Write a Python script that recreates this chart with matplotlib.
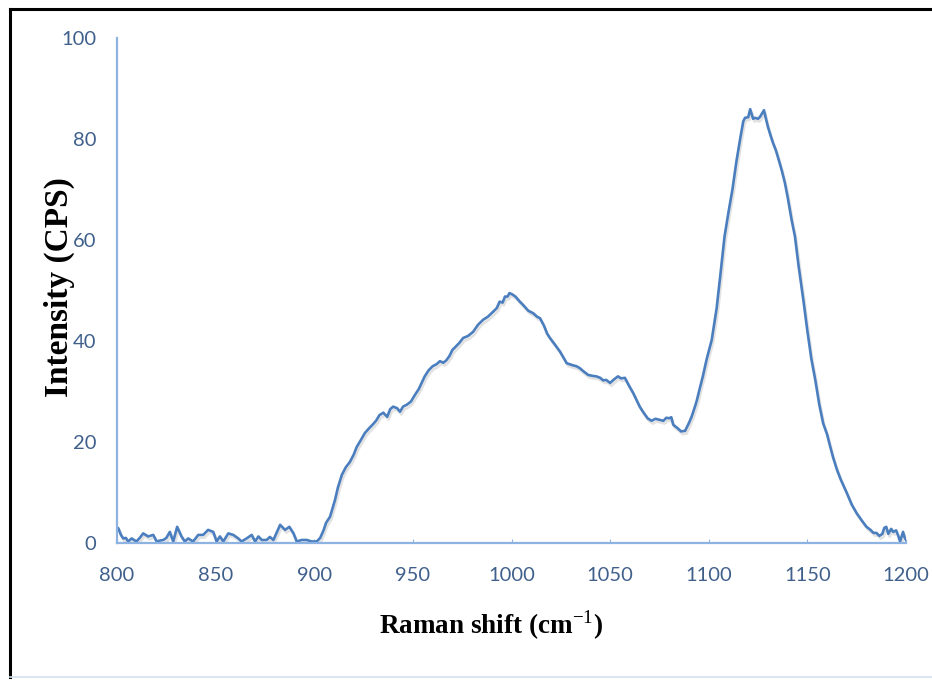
import matplotlib
matplotlib.use("Agg")
import matplotlib.pyplot as plt
import matplotlib.patheffects as pe
from matplotlib.lines import Line2D

# ---------------- data ----------------
raman_shift = [
    800.0, 800.7, 802.0, 803.2, 804.5, 805.7, 807.4, 809.9, 811.5, 813.3,
    815.8, 818.4, 820.1, 822.0, 823.5, 825.0, 826.8, 828.5, 830.5, 832.7,
    834.4, 836.1, 838.6, 841.2, 843.7, 846.2, 848.8, 850.5, 852.2, 853.9,
    856.4, 859.0, 861.5, 863.2, 865.7, 868.3, 870.0, 871.7, 873.4, 875.9,
    877.5, 879.3, 882.7, 885.2, 887.4, 889.5, 891.1, 893.7, 896.2, 898.7,
    901.3, 903.0, 904.7, 906.0, 908.0, 910.5, 912.0, 914.0, 916.0, 918.0,
    920.0, 921.5, 923.5, 925.7, 928.0, 930.0, 931.5, 933.0, 935.0, 937.0,
    938.5, 940.0, 942.0, 943.5, 945.0, 947.0, 949.0, 951.0, 953.0, 956.0,
    958.0, 960.0, 962.0, 963.7, 965.5, 967.0, 968.5, 970.0, 972.0, 973.5,
    975.5, 978.0, 980.5, 983.0, 985.6, 988.0, 990.7, 992.5, 994.0, 995.5,
    996.7, 998.0, 999.0, 1000.5, 1002.0, 1004.0, 1006.0, 1008.5, 1011.0, 1013.0,
    1014.5, 1016.5, 1018.0, 1019.5, 1022.0, 1024.6, 1026.5, 1028.0, 1029.5, 1031.0,
    1033.0, 1034.7, 1036.5, 1038.8, 1041.0, 1043.0, 1045.0, 1046.5, 1048.0, 1050.0,
    1052.0, 1054.0, 1055.5, 1057.5, 1059.5, 1061.7, 1063.5, 1065.0, 1067.0, 1069.0,
    1071.0, 1073.0, 1075.0, 1077.0, 1078.5, 1080.0, 1081.0, 1082.0, 1084.0, 1086.0,
    1088.0, 1090.0, 1091.3, 1093.0, 1094.0, 1095.5, 1097.0, 1099.0, 1101.5, 1104.0,
    1106.0, 1108.0, 1110.0, 1112.0, 1114.0, 1116.0, 1117.5, 1118.4, 1120.0, 1121.0,
    1122.5, 1123.5, 1125.0, 1126.0, 1128.0, 1129.0, 1130.0, 1131.5, 1132.6, 1134.0,
    1135.0, 1137.0, 1138.6, 1140.0, 1142.0, 1143.7, 1145.5, 1148.0, 1150.0, 1152.0,
    1154.0, 1156.0, 1158.0, 1160.0, 1161.5, 1163.0, 1165.0, 1167.0, 1170.0, 1172.5,
    1175.0, 1177.5, 1180.0, 1182.0, 1183.5, 1185.0, 1186.5, 1188.0, 1189.0, 1190.0,
    1191.0, 1192.5, 1193.5, 1195.0, 1196.0, 1197.0, 1198.5, 1199.2, 1200.0,
]
intensity = [
    3.1, 2.9, 1.6, 0.9, 1.0, 0.3, 0.9, 0.3, 1.0, 1.9,
    1.3, 1.6, 0.3, 0.5, 0.6, 1.0, 2.2, 0.3, 3.2, 1.3,
    0.3, 0.9, 0.3, 1.6, 1.6, 2.6, 2.2, 0.3, 1.3, 0.3,
    1.9, 1.6, 0.9, 0.3, 0.9, 1.6, 0.3, 1.3, 0.6, 0.6,
    1.2, 0.6, 3.6, 2.6, 3.2, 1.9, 0.3, 0.6, 0.6, 0.3,
    0.3, 1.0, 2.5, 4.0, 5.2, 8.5, 11.0, 13.5, 15.0, 16.0,
    17.5, 19.0, 20.3, 21.8, 22.8, 23.6, 24.3, 25.3, 25.8, 25.0,
    26.5, 27.0, 26.7, 26.0, 27.0, 27.4, 28.0, 29.3, 30.5, 33.0,
    34.2, 35.0, 35.4, 36.0, 35.7, 36.2, 37.0, 38.2, 39.0, 39.6,
    40.6, 41.0, 41.8, 43.2, 44.2, 44.8, 45.8, 46.5, 47.8, 47.6,
    48.8, 48.8, 49.5, 49.2, 48.8, 47.9, 47.1, 46.0, 45.5, 44.8,
    44.5, 43.0, 41.5, 40.6, 39.3, 37.9, 36.6, 35.6, 35.4, 35.2,
    35.0, 34.6, 34.0, 33.3, 33.1, 33.0, 32.7, 32.2, 32.3, 31.7,
    32.4, 33.0, 32.6, 32.7, 31.2, 29.7, 28.2, 27.0, 25.8, 24.7,
    24.2, 24.6, 24.4, 24.2, 24.8, 24.7, 24.9, 23.4, 22.8, 22.1,
    22.2, 23.8, 25.0, 27.0, 28.3, 30.7, 33.0, 36.5, 40.2, 46.5,
    53.5, 60.7, 65.5, 70.0, 75.5, 80.2, 83.5, 84.2, 84.3, 85.9,
    84.0, 84.2, 84.0, 84.4, 85.7, 84.0, 82.4, 80.5, 79.2, 77.8,
    76.5, 73.8, 71.3, 68.5, 64.0, 60.7, 55.0, 48.0, 42.0, 36.5,
    32.3, 27.5, 23.7, 21.5, 19.2, 17.0, 14.5, 12.5, 9.9, 7.6,
    5.9, 4.5, 3.2, 2.6, 2.0, 2.0, 1.4, 1.8, 3.0, 3.2,
    1.8, 2.8, 2.2, 2.5, 1.5, 0.3, 2.2, 1.2, 0.6,
]
x_ticks = [800, 850, 900, 950, 1000, 1050, 1100, 1150, 1200]
y_ticks = [0, 20, 40, 60, 80, 100]

# ---------------- styling ----------------
plt.rcParams['mathtext.fontset'] = 'custom'
plt.rcParams['mathtext.rm'] = 'Liberation Serif'
plt.rcParams['mathtext.bf'] = 'Liberation Serif:bold'

LINE_COLOR = '#4A7EBE'
AXIS_COLOR = '#8DB3E2'
TICK_COLOR = '#40608C'

fig = plt.figure(figsize=(9.32, 6.80), dpi=100)
ax = fig.add_axes([117 / 932, 1 - 543 / 680, (906 - 117) / 932, (543 - 38) / 680])

ax.plot(raman_shift, intensity, color=LINE_COLOR, lw=1.9, solid_joinstyle='round',
        path_effects=[pe.SimpleLineShadow(offset=(1, -2), shadow_color='#7f7f7f', alpha=0.22),
                      pe.Normal()])

ax.set_xlim(800, 1200)
ax.set_ylim(0, 100)
ax.set_xticks(x_ticks)
ax.set_yticks(y_ticks)
ax.set_xticklabels([str(v) for v in x_ticks])
ax.set_yticklabels([str(v) for v in y_ticks])

for s in ['top', 'right']:
    ax.spines[s].set_visible(False)
for s in ['left', 'bottom']:
    ax.spines[s].set_color(AXIS_COLOR)
    ax.spines[s].set_linewidth(1.6)

ax.tick_params(axis='x', direction='in', length=3, color=AXIS_COLOR, pad=17,
               labelsize=14.5, labelcolor=TICK_COLOR)
ax.tick_params(axis='y', length=0, pad=15, labelsize=14.5, labelcolor=TICK_COLOR)
for lab in ax.get_xticklabels() + ax.get_yticklabels():
    lab.set_family('Lato')

fig.text(491 / 932, 1 - 625 / 680, 'Raman shift (cm$^{-1}$)', ha='center', va='center',
         fontsize=19.5, family='Liberation Serif', fontweight='bold', color='black')
fig.text(59 / 932, 1 - 287 / 680, 'Intensity (CPS)', ha='center', va='center',
         rotation=90, fontsize=24, family='Liberation Serif', fontweight='bold', color='black')

# outer frame of the picture
fig.add_artist(Line2D([10 / 932, 10 / 932], [1 - 677 / 680, 1 - 9 / 680],
                      transform=fig.transFigure, color='black', lw=2.2))
fig.add_artist(Line2D([10 / 932, 1.0], [1 - 9 / 680, 1 - 9 / 680],
                      transform=fig.transFigure, color='black', lw=2.2))
fig.add_artist(Line2D([10 / 932, 1.0], [1 - 677 / 680, 1 - 677 / 680],
                      transform=fig.transFigure, color='#D6E2F0', lw=1.2))

fig.savefig('out.png', dpi=100, facecolor='white')
